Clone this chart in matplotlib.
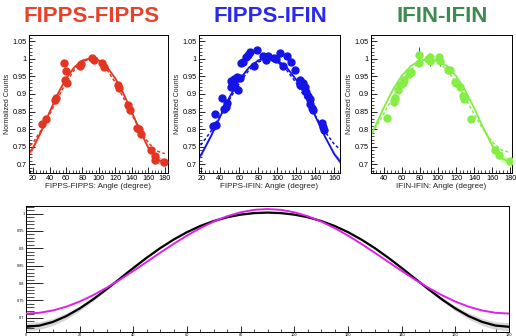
import matplotlib
matplotlib.use("Agg")
import matplotlib.pyplot as plt
import numpy as np
from matplotlib.ticker import MultipleLocator
from matplotlib import font_manager

plt.rcParams['font.family'] = ['Liberation Sans', 'DejaVu Sans']

# ---------------- data ----------------
titles = ["FIPPS-FIPPS", "FIPPS-IFIN", "IFIN-IFIN"]
title_colors = ["#e8412c", "#2a2aee", "#3d8b50"]
point_colors = ["#e23622", "#1414e6", "#84ee44"]
band_colors = ["#f4b8b0", "#b8b8f8", "#cdf8b0"]
xlabels = ["FIPPS-FIPPS: Angle (degree)", "FIPPS-IFIN: Angle (degree)", "IFIN-IFIN: Angle (degree)"]

ff_angle = [31.3, 35.4, 46.3, 48.3, 57.7, 60.1, 59.3, 61.7, 76.7, 78.7, 91.7, 93.7, 103.8, 105.8,
            123.2, 124.5, 135.4, 137.4, 146.3, 148.7, 150.8, 163.7, 168.2, 168.2, 179.5]
ff_counts = [0.814, 0.829, 0.883, 0.890, 0.988, 0.966, 0.940, 0.932, 0.981, 0.985, 1.002, 0.997, 0.988, 0.976,
             0.926, 0.916, 0.869, 0.854, 0.804, 0.801, 0.785, 0.740, 0.724, 0.712, 0.705]
ff_err = [0.004, 0.004, 0.004, 0.004, 0.008, 0.005, 0.008, 0.010, 0.004, 0.004, 0.004, 0.004, 0.004, 0.004,
          0.004, 0.004, 0.004, 0.004, 0.004, 0.004, 0.004, 0.006, 0.008, 0.006, 0.004]

fi_angle = [32.3, 34.1, 35.9, 41.9, 44.0, 45.7, 47.2, 51.0, 51.7, 53.5, 54.6, 55.3, 57.0, 58.1, 60.6,
            61.6, 64.1, 66.9, 69.4, 71.1, 75.4, 78.9, 85.3, 88.1, 90.5, 96.5, 98.7, 102.9, 106.4, 110.0,
            114.2, 118.8, 123.4, 124.1, 126.9, 128.7, 130.1, 132.2, 134.0, 134.7, 136.4, 137.5, 147.0,
            148.0, 149.5]
fi_counts = [0.809, 0.842, 0.811, 0.888, 0.857, 0.862, 0.875, 0.919, 0.937, 0.931, 0.942, 0.919, 0.948,
             0.912, 0.945, 0.988, 0.990, 1.005, 1.011, 1.021, 0.980, 1.024, 1.007, 0.997, 1.007, 1.002,
             0.999, 1.018, 0.981, 1.007, 0.990, 0.967, 0.940, 0.926, 0.931, 0.919, 0.907, 0.893, 0.885,
             0.872, 0.859, 0.853, 0.816, 0.805, 0.797]
fi_err = [0.004, 0.008] + [0.003] * 43

ii_angle = [43.7, 51.1, 52.9, 55.5, 58.4, 61.0, 62.1, 68.4, 70.2, 78.7, 79.1, 88.7, 90.8, 91.6, 101.5,
            102.6, 110.7, 113.7, 119.2, 120.3, 124.0, 127.7, 129.2, 136.9, 162.7, 167.1, 180.0]
ii_counts = [0.831, 0.876, 0.888, 0.910, 0.926, 0.932, 0.940, 0.957, 0.964, 1.011, 0.988, 0.999, 1.004,
             0.994, 1.004, 0.995, 0.969, 0.967, 0.935, 0.931, 0.919, 0.893, 0.886, 0.829, 0.740, 0.726, 0.710]
ii_err = [0.008, 0.004, 0.004, 0.004, 0.004, 0.004, 0.004, 0.004, 0.004, 0.022, 0.004, 0.006, 0.014,
          0.014, 0.004, 0.014, 0.004, 0.004, 0.004, 0.004, 0.006, 0.004, 0.004, 0.008, 0.004, 0.004, 0.004]

# fit curves read at 10 degree steps (0..180)
curve_angle = list(range(0, 181, 10))
ff_solid_half = [0.7030, 0.7146, 0.7473, 0.7946, 0.8484, 0.9003, 0.9441, 0.9763, 0.9956, 1.0019]
ff_dash_half = [0.7300, 0.7381, 0.7616, 0.7975, 0.8416, 0.8884, 0.9325, 0.9684, 0.9919, 1.0000]
fi_solid_half = [0.6812, 0.6936, 0.7285, 0.7793, 0.8370, 0.8929, 0.9402, 0.9751, 0.9961, 1.0030]
fi_dash_half = [0.7248, 0.7331, 0.7569, 0.7935, 0.8383, 0.8861, 0.9309, 0.9675, 0.9913, 0.9996]
ii_solid_half = [0.7050, 0.7179, 0.7537, 0.8045, 0.8602, 0.9114, 0.9520, 0.9797, 0.9952, 1.0000]
ii_dash_half = [0.7330, 0.7410, 0.7642, 0.7998, 0.8433, 0.8897, 0.9333, 0.9688, 0.9920, 1.0000]
band_half = [0.012, 0.010, 0.006, 0.003, 0.002, 0.002, 0.002, 0.002, 0.002, 0.002]

def mirror(h):
    return list(h) + list(h[-2::-1])

# bottom comparison curves read at 5 degree steps (0..180)
cmp_angle = list(range(0, 181, 5))
black_half = [0.6740, 0.6775, 0.6880, 0.7047, 0.7268, 0.7531, 0.7822, 0.8128, 0.8435, 0.8731,
              0.9006, 0.9253, 0.9467, 0.9646, 0.9788, 0.9897, 0.9972, 1.0016, 1.0031]
magenta_half = [0.7121, 0.7143, 0.7210, 0.7319, 0.7467, 0.7650, 0.7862, 0.8098, 0.8350, 0.8611,
                0.8873, 0.9128, 0.9368, 0.9585, 0.9773, 0.9926, 1.0039, 1.0109, 1.0132]
grey_half = [0.012, 0.011, 0.010, 0.009, 0.007, 0.005, 0.004, 0.003, 0.003, 0.002,
             0.002, 0.002, 0.002, 0.002, 0.002, 0.002, 0.002, 0.002, 0.002]

# ---------------- figure ----------------
W, H = 516, 336
fig = plt.figure(figsize=(W / 100, H / 100), dpi=100)

def px_axes(x0, y0, x1, y1):
    return fig.add_axes([x0 / W, 1 - y1 / H, (x1 - x0) / W, (y1 - y0) / H])

installed = {f.name for f in font_manager.fontManager.ttflist}
if 'Liberation Sans Narrow' in installed:
    title_family = ['Liberation Sans Narrow', 'DejaVu Sans']
    title_size = 19
else:
    title_family = ['Liberation Sans', 'DejaVu Sans']
    title_size = 16

top_boxes = [(29, 35, 168, 173), (199, 35, 340, 173), (371, 35, 512, 173)]
xlims = [(15, 184), (17.5, 166), (26, 182)]
data = [(ff_angle, ff_counts, ff_err), (fi_angle, fi_counts, fi_err), (ii_angle, ii_counts, ii_err)]
curves = [(ff_solid_half, ff_dash_half), (fi_solid_half, fi_dash_half), (ii_solid_half, ii_dash_half)]
title_x = [92, 270, 442]

for i in range(3):
    ax = px_axes(*top_boxes[i])
    ang, cnt, err = data[i]
    solid = np.array(mirror(curves[i][0]))
    dash = np.array(mirror(curves[i][1]))
    band = np.array(mirror(band_half))
    ax.fill_between(curve_angle, solid - band, solid + band, color=band_colors[i], lw=0, zorder=1)
    ax.plot(curve_angle, solid, color=point_colors[i], lw=1.3, zorder=2)
    ax.plot(curve_angle, dash, color=point_colors[i], lw=1.1, ls=(0, (2, 1.5)), zorder=2)
    ax.errorbar(ang, cnt, yerr=err, fmt='o', color=point_colors[i], ms=5, mec=point_colors[i],
                ecolor='#222222', elinewidth=0.6, capsize=0, zorder=3)
    ax.set_xlim(*xlims[i])
    ax.set_ylim(0.675, 1.068)
    ax.xaxis.set_major_locator(MultipleLocator(20))
    ax.xaxis.set_minor_locator(MultipleLocator(4))
    ax.yaxis.set_minor_locator(MultipleLocator(0.01))
    ax.set_yticks(np.arange(0.7, 1.051, 0.05))
    ax.set_yticklabels(["0.7", "0.75", "0.8", "0.85", "0.9", "0.95", "1", "1.05"])
    ax.tick_params(axis='both', which='major', direction='in', length=4, width=0.6, labelsize=5.2, pad=1.5)
    ax.tick_params(axis='both', which='minor', direction='in', length=2, width=0.5)
    ax.set_xlabel(xlabels[i], fontsize=5.8, labelpad=1, color='#222222')
    ax.set_ylabel("Normalized Counts", fontsize=5.0, labelpad=1, color='#222222')
    for s in ax.spines.values():
        s.set_linewidth(0.7)
    fig.text(title_x[i] / W, 1 - 17 / H, titles[i], color=title_colors[i], fontsize=title_size,
             fontweight='bold', ha='center', va='center', family=title_family)

# bottom panel
ax = px_axes(26, 206, 509, 332)
black = np.array(mirror(black_half))
magenta = np.array(mirror(magenta_half))
grey = np.array(mirror(grey_half))
ax.fill_between(cmp_angle, black - grey, black + grey, color='#d6d6d6', lw=0, zorder=1)
ax.plot(cmp_angle, black, color='black', lw=1.6, zorder=2)
ax.plot(cmp_angle, magenta, color='#e020e8', lw=1.4, zorder=3)
ax.set_xlim(0, 180)
ax.set_ylim(0.659, 1.022)
ax.xaxis.set_major_locator(MultipleLocator(20))
ax.xaxis.set_minor_locator(MultipleLocator(5))
ax.set_yticks(np.arange(0.7, 1.001, 0.05))
ax.set_yticklabels(["0.7", "0.75", "0.8", "0.85", "0.9", "0.95", "1"])
ax.yaxis.set_minor_locator(MultipleLocator(0.01))
ax.tick_params(axis='both', which='major', direction='in', length=12, width=0.6, labelsize=2.8, pad=1)
ax.tick_params(axis='x', which='major', length=4)
ax.tick_params(axis='both', which='minor', direction='in', length=6, width=0.5)
ax.tick_params(axis='x', which='minor', length=2)
for s in ax.spines.values():
    s.set_linewidth(0.7)

fig.savefig("out.png", dpi=100)
